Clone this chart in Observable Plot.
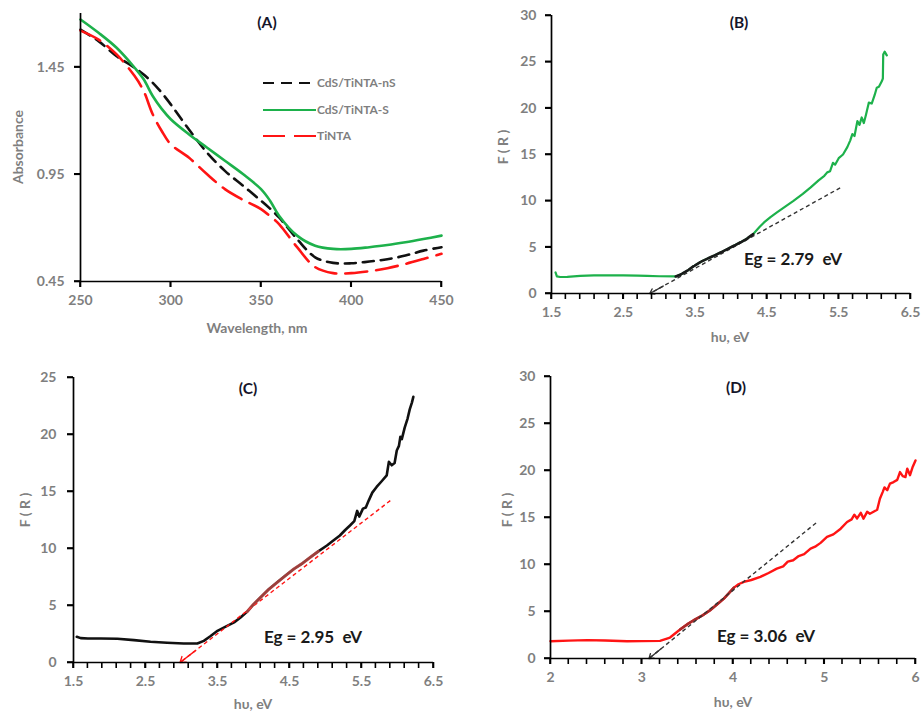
<!DOCTYPE html>
<html><head><meta charset="utf-8">
<script src="https://cdn.jsdelivr.net/npm/d3@7"></script>
<script src="https://cdn.jsdelivr.net/npm/@observablehq/plot@0.6"></script>
<style>
body{margin:0;background:#fff;}
#root{position:relative;width:922px;height:716px;overflow:hidden;font-family:Lato,"Open Sans",sans-serif;}
.panel{position:absolute;}
.lbl{position:absolute;transform:translate(-50%,-50%);white-space:pre;font-weight:bold;line-height:1;}
</style></head>
<body><div id="root"></div>
<script>
// ---------- Panel A data ----------
const wavelength = [250,260,270,280,285,290,295,300,310,320,330,340,350,355,360,370,380,390,400,410,420,430,440,450];
const absCdSnS  = [1.625,1.571,1.501,1.447,1.415,1.377,1.33,1.276,1.16,1.052,0.966,0.897,0.827,0.79,0.749,0.648,0.563,0.537,0.535,0.543,0.554,0.571,0.594,0.61];
const absCdSS   = [1.672,1.61,1.54,1.447,1.393,1.315,1.255,1.207,1.137,1.075,1.013,0.951,0.881,0.827,0.757,0.664,0.617,0.602,0.602,0.61,0.62,0.633,0.648,0.664];
const absTiNTA  = [1.62,1.578,1.509,1.408,1.338,1.23,1.152,1.09,1.028,0.951,0.881,0.831,0.788,0.755,0.718,0.61,0.517,0.489,0.489,0.498,0.512,0.532,0.555,0.579];
const seriesNames = ["CdS/TiNTA-nS","CdS/TiNTA-S","TiNTA"];
const yTicksA = [0.45,0.95,1.45];
const xTicksA = [250,300,350,400,450];

// ---------- Panel B data ----------
const hvB = [1.556,1.575,1.62,1.72,1.9,2.09,2.3,2.5,2.7,2.83,3.0,3.23,3.3,3.4,3.48,3.6,3.76,3.9,4.04,4.2,4.31,4.4,4.46,4.55,4.64,4.75,4.87,5.0,5.11,5.22,5.3,5.34,5.38,5.42,5.45,5.5,5.56,5.62,5.66,5.69,5.72,5.76,5.79,5.82,5.85,5.88,5.92,5.96,6.0,6.03,6.06,6.1,6.115,6.12,6.14,6.17];
const frB = [2.27,1.85,1.78,1.8,1.9,1.96,1.96,1.96,1.92,1.9,1.86,1.84,2.05,2.5,2.95,3.5,4.07,4.6,5.15,5.8,6.41,7.2,7.67,8.25,8.75,9.35,10.0,10.75,11.45,12.2,12.7,13.07,13.2,14.1,13.9,14.6,15.0,15.8,16.5,17.2,17.0,18.6,18.2,19.0,18.4,19.3,20.6,20.5,21.4,22.2,22.3,22.9,23.2,25.8,26.1,25.7];
const fitRangeB = [3.23, 4.31];
const tangentBx = [2.87, 5.52];
const tangentBy = [0, 11.4];

// ---------- Panel C data ----------
const hvC = [1.546,1.6,1.7,1.88,2.11,2.34,2.57,2.8,3.03,3.22,3.31,3.4,3.5,3.6,3.73,3.82,3.91,4.0,4.1,4.2,4.33,4.45,4.56,4.68,4.79,4.9,5.02,5.1,5.2,5.27,5.34,5.4,5.44,5.47,5.52,5.56,5.6,5.65,5.71,5.78,5.85,5.88,5.92,5.96,5.99,6.02,6.04,6.06,6.1,6.14,6.17,6.2,6.22];
const frC = [2.26,2.14,2.1,2.11,2.08,1.96,1.82,1.73,1.67,1.67,1.9,2.3,2.78,3.1,3.52,3.95,4.45,5.1,5.72,6.35,7.03,7.65,8.2,8.7,9.23,9.75,10.26,10.65,11.14,11.6,12.02,12.4,13.3,12.8,13.5,13.6,14.2,14.9,15.4,15.9,16.41,17.6,17.3,17.5,18.6,19.0,19.8,19.6,20.6,21.4,22.2,22.8,23.3];
const fitRangeC = [3.9, 5.0];
const tangentCx = [2.98, 5.9];
const tangentCy = [0, 14.2];

// ---------- Panel D data ----------
const hvD = [2.0,2.2,2.4,2.6,2.84,3.0,3.2,3.31,3.42,3.5,3.57,3.66,3.75,3.83,3.9,3.96,4.01,4.06,4.12,4.2,4.3,4.39,4.48,4.55,4.6,4.66,4.72,4.78,4.85,4.9,4.96,5.03,5.1,5.18,5.25,5.3,5.33,5.36,5.4,5.43,5.47,5.5,5.58,5.61,5.64,5.66,5.69,5.72,5.76,5.8,5.83,5.86,5.89,5.91,5.94,5.97,6.0];
const frD = [1.84,1.9,1.95,1.92,1.84,1.85,1.88,2.23,3.08,3.65,4.07,4.55,5.14,5.8,6.37,7.0,7.54,7.9,8.15,8.35,8.68,9.1,9.56,9.8,10.3,10.45,10.9,11.1,11.69,11.9,12.3,12.93,13.2,13.81,14.52,14.8,15.3,14.9,15.5,14.88,15.6,15.4,15.83,17.0,17.7,18.2,17.9,18.6,18.77,19.0,19.83,19.4,19.3,20.2,19.5,20.4,21.07];
const fitRangeD = [3.4, 4.05];
const tangentDx = [3.08, 4.91];
const tangentDy = [0, 14.42];

const egLabels = ["Eg = 2.79  eV","Eg = 2.95  eV","Eg = 3.06  eV"];
const panelTitles = ["(A)","(B)","(C)","(D)"];

// ---------- helpers ----------
const rootEl = document.getElementById("root");
const GREEN = "#1db14b", RED = "#ff1414", BLACK = "#111";
const tickRange = (a,b,s) => d3.range(Math.round((b-a)/s)+1).map(i => +(a+i*s).toFixed(4));
const toRows = (xs, ys) => xs.map((x,i)=>({x, y: ys[i]}));
const TXT = {
  axt: "color:#7f7f7f;font-size:14px;",
  ttl: "color:#15152a;font-size:15.5px;",
  eg:  "color:#1a1a1a;font-size:17px;"
};

function putAt(el, left, top){ el.style.left = left+"px"; el.style.top = top+"px"; rootEl.appendChild(el); }
function addText(text, kind, cx, cy, rotate){
  const d = document.createElement("div"); d.className = "lbl"; d.textContent = text;
  d.style.cssText += TXT[kind];
  if (rotate) d.style.transform = "translate(-50%,-50%) rotate(-90deg)";
  putAt(d, cx, cy);
}

function axisMarks({xDomain, yDomain, xMajor, xMinor, yMajor, xFmt, yFmt, yPad, xPad}){
  const xt = xMinor || xMajor;
  return [
    Plot.axisY({ticks: yMajor, tickSize:6, tickPadding:yPad-1, tickFormat:yFmt, stroke:"#000", strokeWidth:1.6, fill:"#7f7f7f", label:null, fontWeight:"bold"}),
    Plot.axisX({ticks: xMajor, tickSize:6, tickPadding:xPad-1, tickFormat:xFmt, stroke:"#000", strokeWidth:1.6, fill:"#7f7f7f", label:null, fontWeight:"bold"}),
    // tick marks drawn as small filled rectangles (outside the frame)
    Plot.rect(xt, {x1: d => d, x2: d => d, y1: () => yDomain[0], y2: () => yDomain[0],
      insetLeft: -0.8, insetRight: -0.8, insetTop: 0, insetBottom: -6, fill: "#000"}),
    Plot.rect(yMajor, {y1: d => d, y2: d => d, x1: () => xDomain[0], x2: () => xDomain[0],
      insetLeft: -6, insetRight: 0, insetTop: -0.8, insetBottom: -0.8, fill: "#000"}),
    Plot.ruleX([xDomain[0]], {stroke:"#000", strokeWidth:1.7}),
    Plot.ruleY([yDomain[0]], {stroke:"#000", strokeWidth:1.7})
  ];
}

function drawPanel({left, top, width, height, ml, mr, mt, mb, xDomain, yDomain, marks}){
  const p = Plot.plot({
    width, height, marginLeft:ml, marginRight:mr, marginTop:mt, marginBottom:mb,
    x:{domain:xDomain}, y:{domain:yDomain},
    style:{fontFamily:"Lato, 'Open Sans', sans-serif", fontSize:"14px", fontWeight:"bold", color:"#7f7f7f", background:"transparent", overflow:"visible"},
    marks
  });
  const wrap = document.createElement("div"); wrap.className = "panel"; wrap.appendChild(p);
  putAt(wrap, left, top);
}

function tangentMarks(tx, ty, color, dash){
  const tan = [{x1: tx[1], y1: ty[1], x2: tx[0], y2: ty[0]}];
  const t = 0.07;
  const head = [{x1: tx[0] + (tx[1]-tx[0])*t, y1: ty[0] + (ty[1]-ty[0])*t, x2: tx[0], y2: ty[0]}];
  return [
    Plot.link(tan, {x1:"x1", y1:"y1", x2:"x2", y2:"y2", stroke:color, strokeWidth:1.4, strokeDasharray:dash}),
    Plot.arrow(head, {x1:"x1", y1:"y1", x2:"x2", y2:"y2", stroke:color, strokeWidth:1.4, headLength:9, headAngle:70})
  ];
}

// ---------- Panel A ----------
const dataA = [absCdSnS, absCdSS, absTiNTA].flatMap((ys, k) => wavelength.map((w,i)=>({w, a: ys[i], s: seriesNames[k]})));
const styleA = {
  "CdS/TiNTA-nS": {stroke: BLACK, dash: [11,7]},
  "CdS/TiNTA-S": {stroke: GREEN, dash: null},
  "TiNTA": {stroke: RED, dash: [22,9]}
};
const xDomA = [250,450], yDomA = [0.45,1.70];
drawPanel({left:0, top:0, width:460, height:340, ml:80, mr:19, mt:13, mb:59, xDomain:xDomA, yDomain:yDomA,
  marks:[
    ...seriesNames.map(s => Plot.line(dataA.filter(d=>d.s===s), styleA[s].dash
      ? {x:"w", y:"a", stroke: styleA[s].stroke, strokeWidth:2.6, strokeDasharray: styleA[s].dash.join(","), curve:"catmull-rom"}
      : {x:"w", y:"a", stroke: styleA[s].stroke, strokeWidth:2.6, curve:"catmull-rom"})),
    ...axisMarks({xDomain:xDomA, yDomain:yDomA, xMajor:xTicksA, yMajor:yTicksA, xFmt:d3.format("d"), yFmt:d3.format(".2f"), yPad:11, xPad:9})
  ]});
addText(panelTitles[0], "ttl", 267, 23);
addText("Absorbance", "axt", 18, 147, true);
addText("Wavelength, nm", "axt", 257, 328);
// legend (HTML swatches)
seriesNames.forEach((s, i) => {
  const y = [83,110,136][i];
  const sw = document.createElement("div");
  sw.style.position = "absolute"; sw.style.width = "53px"; sw.style.height = "2.6px";
  const st = styleA[s];
  sw.style.background = st.dash
    ? `repeating-linear-gradient(90deg, ${st.stroke} 0 ${st.dash[0]}px, transparent ${st.dash[0]}px ${st.dash[0]+st.dash[1]}px)`
    : st.stroke;
  putAt(sw, 263, y-1.3);
  const t = document.createElement("div");
  t.style.cssText = "position:absolute;font-size:12px;color:#7f7f7f;font-weight:bold;white-space:pre;line-height:1;transform:translateY(-50%);";
  t.textContent = s;
  putAt(t, 317, y);
});

// ---------- Panel B ----------
const dB = toRows(hvB, frB);
const xDomB = [1.5,6.5], yDomB = [0,30];
drawPanel({left:460, top:0, width:462, height:340, ml:91, mr:12, mt:15, mb:47, xDomain:xDomB, yDomain:yDomB,
  marks:[
    Plot.line(dB, {x:"x", y:"y", stroke:GREEN, strokeWidth:2.2}),
    ...tangentMarks(tangentBx, tangentBy, "#333", "4,3"),
    Plot.line(dB.filter(d => d.x>=fitRangeB[0] && d.x<=fitRangeB[1]), {x:"x", y:"y", stroke:"#1a1a1a", strokeWidth:2.6, strokeDasharray:"6,1.5"}),
    ...axisMarks({xDomain:xDomB, yDomain:yDomB, xMajor:tickRange(1.5,6.5,1), xMinor:tickRange(1.5,6.5,0.2), yMajor:tickRange(0,30,5), xFmt:d3.format(".1f"), yFmt:d3.format("d"), yPad:10, xPad:9})
  ]});
addText(panelTitles[1], "ttl", 739, 23);
addText("F ( R )", "axt", 503, 147, true);
addText("h\u03c5, eV", "axt", 730, 337);
addText(egLabels[0], "eg", 793, 258);

// ---------- Panel C ----------
const dC = toRows(hvC, frC);
const xDomC = [1.5,6.5], yDomC = [0,25];
drawPanel({left:0, top:350, width:460, height:366, ml:73, mr:27, mt:27, mb:54, xDomain:xDomC, yDomain:yDomC,
  marks:[
    Plot.line(dC, {x:"x", y:"y", stroke:BLACK, strokeWidth:2.6}),
    ...tangentMarks(tangentCx, tangentCy, RED, "4,3"),
    Plot.line(dC.filter(d => d.x>=fitRangeC[0] && d.x<=fitRangeC[1]), {x:"x", y:"y", stroke:"#d9534f", strokeOpacity:0.7, strokeWidth:3}),
    ...axisMarks({xDomain:xDomC, yDomain:yDomC, xMajor:tickRange(1.5,6.5,1), xMinor:tickRange(1.5,6.5,0.2), yMajor:tickRange(0,25,5), xFmt:d3.format(".1f"), yFmt:d3.format("d"), yPad:12, xPad:9})
  ]});
addText(panelTitles[2], "ttl", 248, 389);
addText("F ( R )", "axt", 25, 510, true);
addText("h\u03c5, eV", "axt", 253, 704);
addText(egLabels[1], "eg", 313, 636);

// ---------- Panel D ----------
const dD = toRows(hvD, frD);
const xDomD = [2,6], yDomD = [0,30];
drawPanel({left:460, top:350, width:462, height:366, ml:90, mr:7, mt:26, mb:58, xDomain:xDomD, yDomain:yDomD,
  marks:[
    Plot.line(dD, {x:"x", y:"y", stroke:RED, strokeWidth:2.4}),
    Plot.line(dD.filter(d => d.x>=fitRangeD[0] && d.x<=fitRangeD[1]), {x:"x", y:"y", stroke:"#a82a2a", strokeWidth:2.6}),
    ...tangentMarks(tangentDx, tangentDy, "#333", "4,3"),
    ...axisMarks({xDomain:xDomD, yDomain:yDomD, xMajor:tickRange(2,6,1), xMinor:tickRange(2,6,0.2), yMajor:tickRange(0,30,5), xFmt:d3.format("d"), yFmt:d3.format("d"), yPad:10, xPad:9})
  ]});
addText(panelTitles[3], "ttl", 736, 388);
addText("F ( R )", "axt", 507, 510, true);
addText("h\u03c5, eV", "axt", 733, 702);
addText(egLabels[2], "eg", 766, 635);
</script></body></html>
